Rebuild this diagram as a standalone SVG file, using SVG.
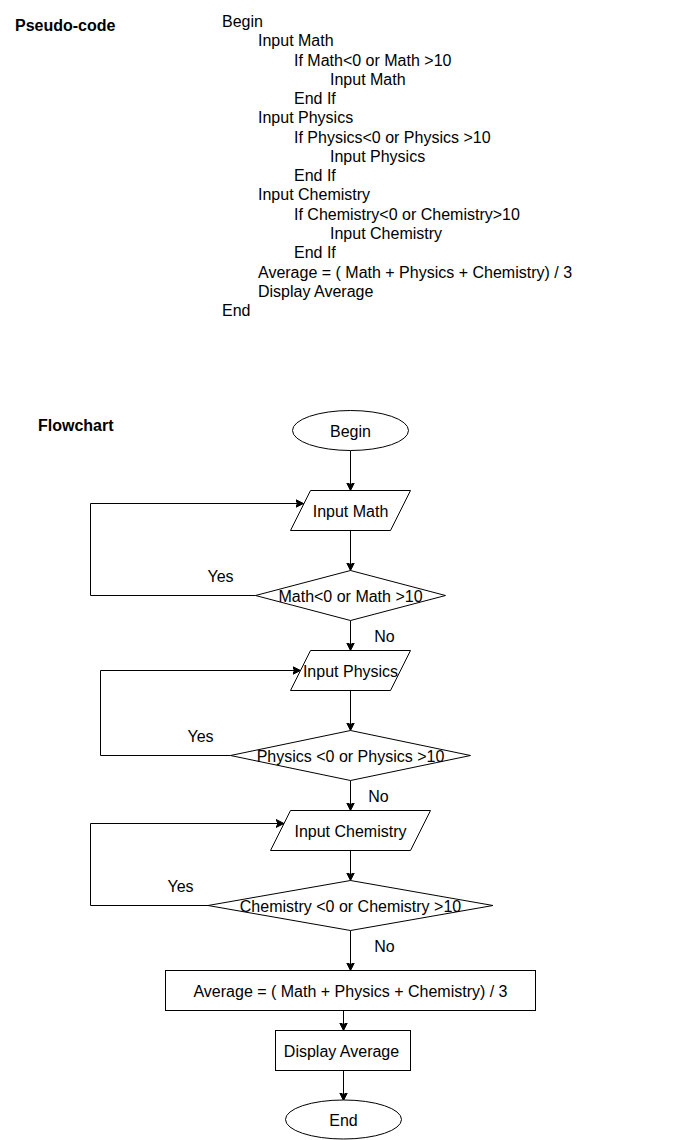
<svg xmlns="http://www.w3.org/2000/svg" width="681" height="1140" viewBox="0 0 681 1140">
<style>
text{font-family:"Liberation Sans",Arial,sans-serif;font-size:16px;fill:#000}
.b{font-weight:bold}
.c{text-anchor:middle}
.shape{fill:#fff;stroke:#000;stroke-width:1}
.edge{fill:none;stroke:#000;stroke-width:1}
</style>
<defs>
<marker id="arr" markerWidth="10" markerHeight="10" refX="8" refY="5" orient="auto" markerUnits="userSpaceOnUse">
<path d="M0,1 L8,5 L0,9 L2,5 Z" fill="#000" stroke="#000" stroke-width="1"/>
</marker>
</defs>
<rect width="681" height="1140" fill="#fff"/>
<g id="pseudocode">
<text class="b" x="15" y="31">Pseudo-code</text>
<text x="222" y="27">Begin</text>
<text x="258" y="46.3">Input Math</text>
<text x="294" y="65.5">If Math&lt;0 or Math &gt;10</text>
<text x="330" y="84.8">Input Math</text>
<text x="294" y="104.1">End If</text>
<text x="258" y="123.4">Input Physics</text>
<text x="294" y="142.6">If Physics&lt;0 or Physics &gt;10</text>
<text x="330" y="161.9">Input Physics</text>
<text x="294" y="181.2">End If</text>
<text x="258" y="200.4">Input Chemistry</text>
<text x="294" y="219.7">If Chemistry&lt;0 or Chemistry&gt;10</text>
<text x="330" y="239">Input Chemistry</text>
<text x="294" y="258.2">End If</text>
<text x="258" y="277.5">Average = ( Math + Physics + Chemistry) / 3</text>
<text x="258" y="296.8">Display Average</text>
<text x="222" y="316">End</text>
</g>
<text class="b" x="38" y="431">Flowchart</text>
<g transform="translate(0.5,0.5)">
<g id="connectors">
<path class="edge" d="M350,450 V490" marker-end="url(#arr)"/>
<path class="edge" d="M350,530 V570" marker-end="url(#arr)"/>
<path class="edge" d="M255,595 H90 V503 H303" marker-end="url(#arr)"/>
<path class="edge" d="M350,620 V650" marker-end="url(#arr)"/>
<path class="edge" d="M350,690 V730" marker-end="url(#arr)"/>
<path class="edge" d="M230,755 H100 V670 H300" marker-end="url(#arr)"/>
<path class="edge" d="M350,780 V810" marker-end="url(#arr)"/>
<path class="edge" d="M350,850 V880" marker-end="url(#arr)"/>
<path class="edge" d="M207.5,905 H90 V823 H283.5" marker-end="url(#arr)"/>
<path class="edge" d="M350,930 V970" marker-end="url(#arr)"/>
<path class="edge" d="M343,1010 V1030" marker-end="url(#arr)"/>
<path class="edge" d="M343,1070 V1100" marker-end="url(#arr)"/>
<text class="c" x="220" y="581">Yes</text>
<text class="c" x="384" y="641">No</text>
<text class="c" x="200" y="741">Yes</text>
<text class="c" x="378" y="801">No</text>
<text class="c" x="180" y="891">Yes</text>
<text class="c" x="384" y="951">No</text>
</g>
<g id="begin">
<ellipse class="shape" cx="350" cy="430" rx="58" ry="20"/>
<text class="c" x="350" y="436">Begin</text>
</g>
<g id="input-math">
<polygon class="shape" points="310,490 410,490 390,530 290,530"/>
<text class="c" x="350" y="516">Input Math</text>
</g>
<g id="check-math">
<polygon class="shape" points="350,570 445,595 350,620 255,595"/>
<text class="c" x="350" y="601">Math&lt;0 or Math &gt;10</text>
</g>
<g id="input-physics">
<polygon class="shape" points="310,650 410,650 390,690 290,690"/>
<text class="c" x="350" y="676">Input Physics</text>
</g>
<g id="check-physics">
<polygon class="shape" points="350,730 470,755 350,780 230,755"/>
<text class="c" x="350" y="761">Physics &lt;0 or Physics &gt;10</text>
</g>
<g id="input-chemistry">
<polygon class="shape" points="290,810 430,810 410,850 270,850"/>
<text class="c" x="350" y="836">Input Chemistry</text>
</g>
<g id="check-chemistry">
<polygon class="shape" points="350,880 492.5,905 350,930 207.5,905"/>
<text class="c" x="350" y="911">Chemistry &lt;0 or Chemistry &gt;10</text>
</g>
<g id="average">
<rect class="shape" x="165" y="970" width="370" height="40"/>
<text class="c" x="350" y="996">Average = ( Math + Physics + Chemistry) / 3</text>
</g>
<g id="display">
<rect class="shape" x="275" y="1030" width="135" height="40"/>
<text class="c" x="341" y="1056">Display Average</text>
</g>
<g id="end">
<ellipse class="shape" cx="343" cy="1119" rx="58" ry="19.5"/>
<text class="c" x="343" y="1125">End</text>
</g>
</g>
</svg>
